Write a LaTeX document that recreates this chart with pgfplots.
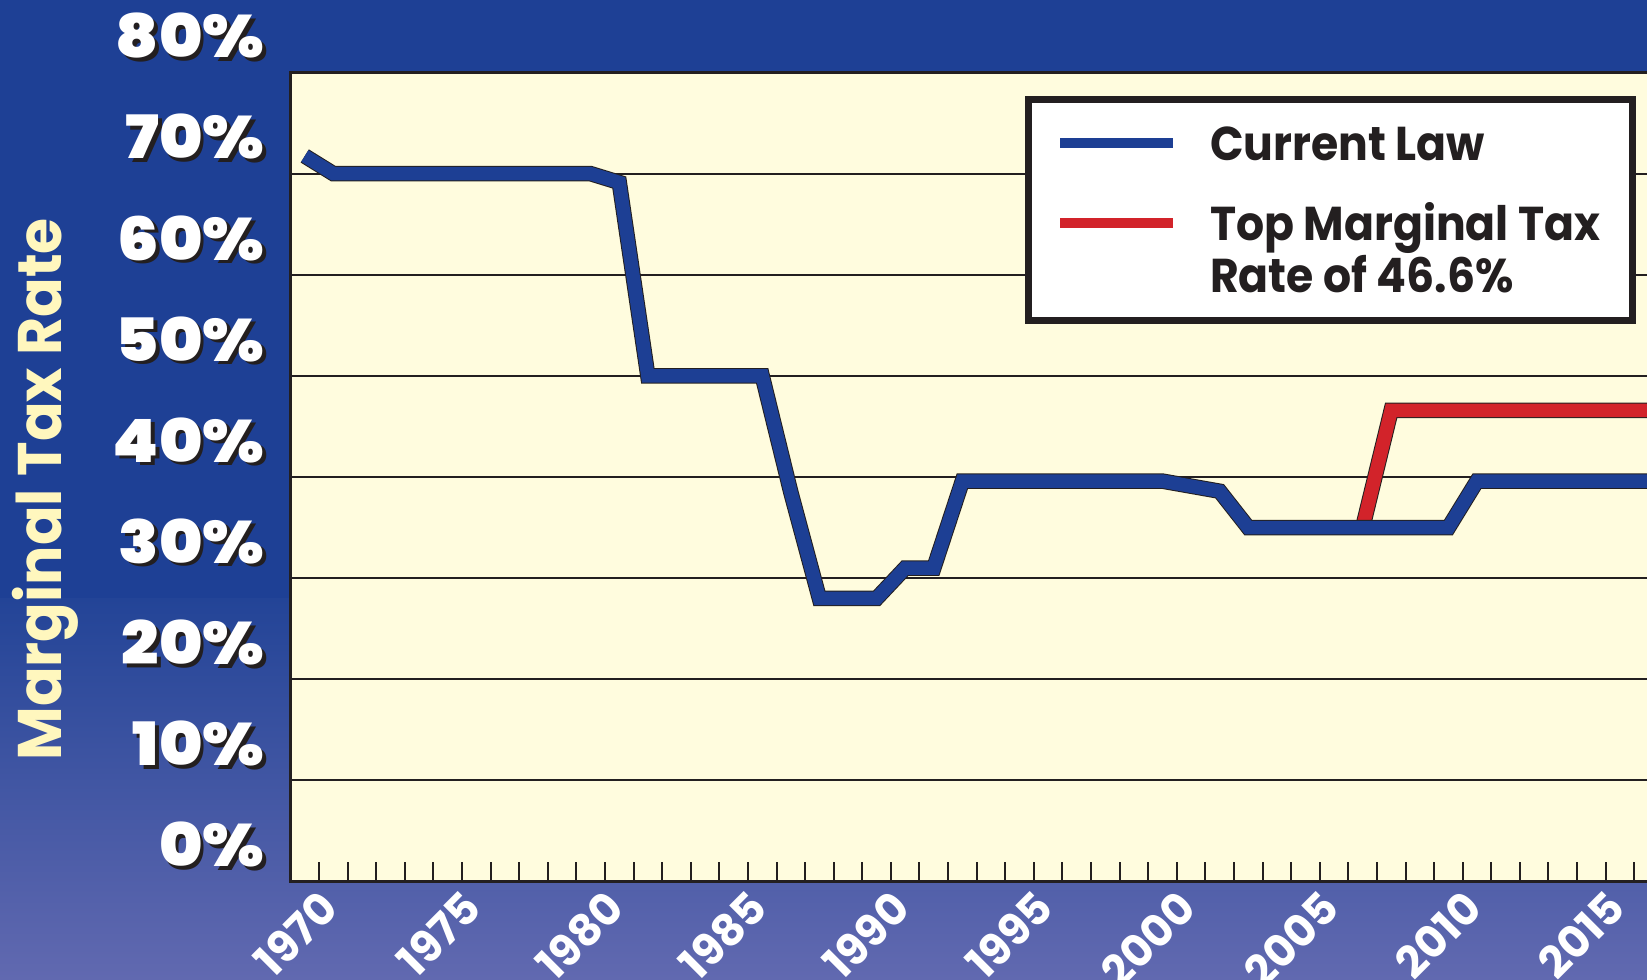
\documentclass[border=0pt]{standalone}
\usepackage{graphicx}
\usepackage{pgfplots}
\pgfplotsset{compat=1.18}
\usepackage{fontspec}
\setmainfont{Poppins}[BoldFont={* Bold}]
\newfontfamily\heavyfont{Poppins}[UprightFont={* Black}]
\definecolor{bgtop}{RGB}{30,64,149}
\definecolor{bgmid}{RGB}{35,68,151}
\definecolor{bgbot}{RGB}{97,105,176}
\definecolor{plotbg}{RGB}{255,252,222}
\definecolor{blueline}{RGB}{29,63,148}
\definecolor{redline}{RGB}{210,35,42}
\definecolor{ink}{RGB}{35,31,32}
\definecolor{paleyellow}{RGB}{255,247,190}
\newcommand\shadowed[1]{\scalebox{1.1}[1]{\rlap{\kern0.35mm\raisebox{-0.35mm}{\textcolor{ink}{#1}}}\textcolor{white}{#1}}}
\newcommand\legtext[1]{\scalebox{0.93}[1]{#1}}
\begin{document}
\begin{tikzpicture}
\def\L{-29.04mm}\def\R{135.6mm}\def\B{-9.77mm}\def\T{88.13mm}
\begin{scope}
\clip (\L,\B) rectangle (\R,\T);
\fill[bgtop] (\L,\B) rectangle (\R,\T);
\shade[top color=bgmid, bottom color=bgbot] (\L,\B) rectangle (\R,28.33mm);
\begin{axis}[
  at={(0,0)}, anchor=south west,
  scale only axis, width=140.04mm, height=80.88mm,
  xmin=1969, xmax=2018, ymin=0, ymax=80,
  axis background/.style={fill=plotbg},
  axis line style={ink, line width=0.3mm},
  xtick={1970,1975,...,2015},
  xticklabels={1970,1975,1980,1985,1990,1995,2000,2005,2010,2015},
  minor xtick={1970,1971,...,2017},
  xtick pos=bottom, tick align=inside,
  major tick length=1.95mm, minor tick length=1.95mm,
  xtick style={ink, line width=0.2mm},
  every minor tick/.append style={ink, line width=0.2mm},
  ytick={0,10,...,80},
  yticklabels={\shadowed{0\%},\shadowed{10\%},\shadowed{20\%},\shadowed{30\%},\shadowed{40\%},\shadowed{50\%},\shadowed{60\%},\shadowed{70\%},\shadowed{80\%}},
  ytick style={draw=none},
  ymajorgrids, grid style={ink, line width=0.2mm},
  yticklabel style={font=\heavyfont\fontsize{17}{17}\selectfont, anchor=east, inner sep=0pt, xshift=-2.55mm, yshift=3.5mm},
  xticklabel style={font=\bfseries\fontsize{12.5}{12.5}\selectfont, color=white, inner sep=0pt, xshift=1.1mm, yshift=-1.8mm, rotate=45, anchor=east},
  ylabel={\scalebox{0.95}[1]{Marginal Tax Rate}},
  every axis y label/.style={at={(axis description cs:-0.1633,0.485)}, rotate=90, anchor=base, font=\bfseries\fontsize{17.5}{17.5}\selectfont, color=paleyellow, inner sep=0pt},
]
\addplot[redline, line width=1.35mm, preaction={draw=ink, line width=1.55mm}] coordinates {
  (2006.5,35) (2007.5,46.6) (2016.5,46.6)
};
\addplot[blueline, line width=1.35mm, preaction={draw=ink, line width=1.55mm}] coordinates {
  (1969.5,71.75) (1970.5,70) (1979.5,70) (1980.5,69.13) (1981.5,50)
  (1985.5,50) (1986.5,38.5) (1987.5,28) (1989.5,28) (1990.5,31)
  (1991.5,31) (1992.5,39.6) (1999.5,39.6) (2000.5,39.1) (2001.5,38.6)
  (2002.5,35) (2009.5,35) (2010.5,39.6) (2016.5,39.6)
};
\end{axis}
\draw[ink, line width=0.7mm, fill=white] (73.81mm,56.08mm) rectangle (134.11mm,78.18mm);
\draw[blueline, line width=1mm] (76.96mm,73.83mm) -- (88.26mm,73.83mm);
\draw[redline, line width=1mm] (76.96mm,65.83mm) -- (88.26mm,65.83mm);
\node[anchor=base west, inner sep=0pt, font=\bfseries\fontsize{13.5}{13.5}\selectfont, color=ink] at (91.86mm,72.13mm) {\legtext{Current Law}};
\node[anchor=base west, inner sep=0pt, font=\bfseries\fontsize{13.5}{13.5}\selectfont, color=ink] at (91.86mm,64.09mm) {\legtext{Top Marginal Tax}};
\node[anchor=base west, inner sep=0pt, font=\bfseries\fontsize{13.5}{13.5}\selectfont, color=ink] at (91.86mm,58.93mm) {\legtext{Rate of 46.6\%}};
\end{scope}
\pgfresetboundingbox
\useasboundingbox (\L,\B) rectangle (\R,\T);
\end{tikzpicture}
\end{document}
